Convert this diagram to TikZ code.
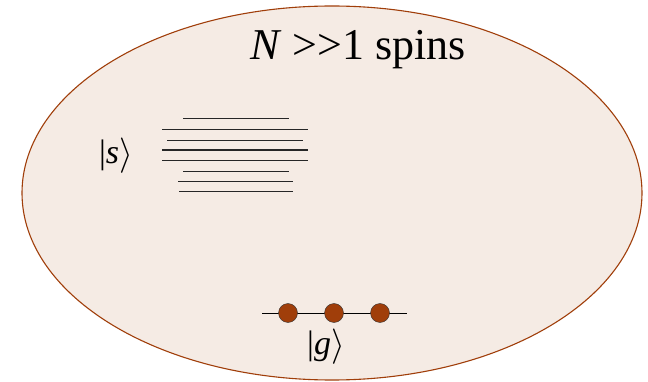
\documentclass[tikz,border=0pt]{standalone}
\usepackage{fontspec}
\setmainfont{Liberation Serif}[Ligatures=NoCommon]
\definecolor{cloud}{RGB}{245,235,228}
\definecolor{rust}{RGB}{160,62,10}
\newcommand{\ketang}{\raisebox{-0.04em}{\resizebox{!}{0.78em}{$\rangle$}}}
\begin{document}
\begin{tikzpicture}[x=1pt, y=-1pt,
  spin/.style={circle, draw=black!80, fill=rust, minimum size=19pt, inner sep=0pt},
  level/.style={line width=0.9pt, black!85},
  ket/.style={font=\fontsize{34}{38}\selectfont}]
  \useasboundingbox (0,0) rectangle (648,382);
  \draw[rust, fill=cloud, line width=1.1pt] (332,193) ellipse [x radius=310, y radius=187];
  \node[font=\fontsize{44}{48}\selectfont] (title) at (358,50) {\textit{N} {>}{>}1 spins};
  % Rydberg manifold |s>
  \foreach \y/\xa/\xb in {118/183/289, 129/162/308, 140/167/303, 160/162/308,
                          171/183/289, 181/178/293, 191/179/293}
    \draw[level] (\xa,\y) -- (\xb,\y);
  \draw[level, line width=1.6pt] (162,150) -- (308,150);
  \node[ket] (s) at (116,156) {|\textit{s}\ketang};
  % ground state |g>
  \coordinate (gl) at (262,313);
  \coordinate (gr) at (407,313);
  \draw[line width=1pt] (gl) -- (gr);
  \node[spin] (g1) at (288,313) {};
  \node[spin] (g2) at (334,313) {};
  \node[spin] (g3) at (380,313) {};
  \node[ket] (g) at (326,347) {|\textit{g}\ketang};
\end{tikzpicture}
\end{document}
